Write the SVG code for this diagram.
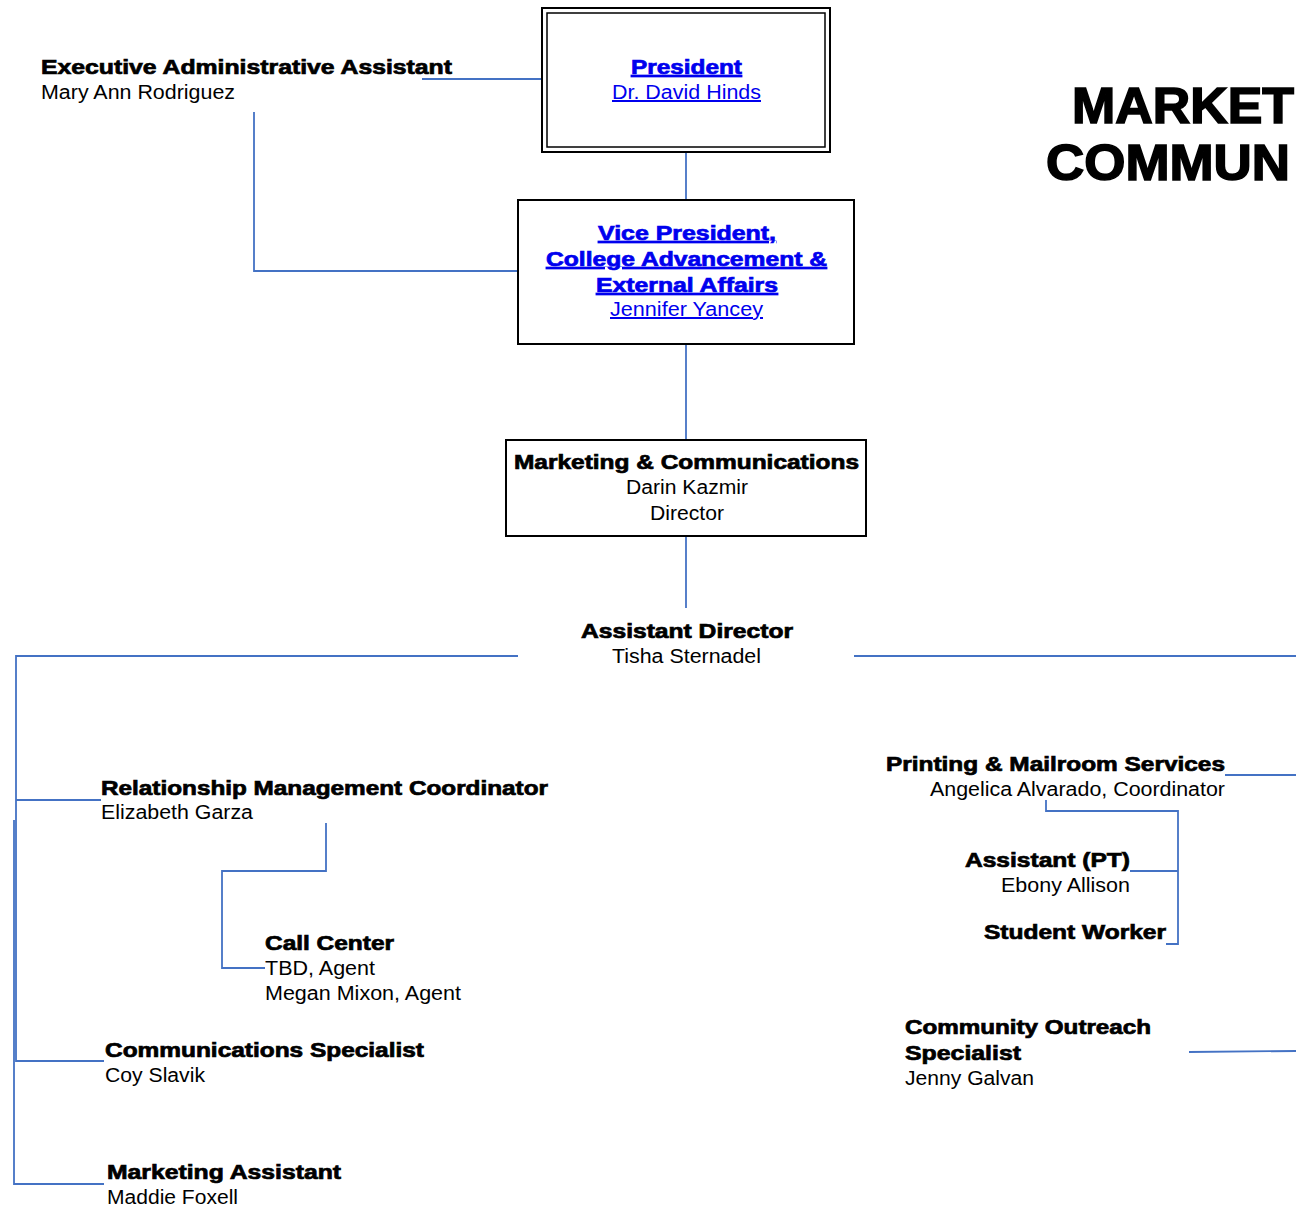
<svg xmlns="http://www.w3.org/2000/svg" width="1296" height="1209" viewBox="0 0 1296 1209">
<style>
text{font-family:"Liberation Sans",Arial,sans-serif;font-size:20px;fill:#000}
.b{font-weight:bold;stroke:#000;stroke-width:0.7}
.lk{fill:#0000ee;text-decoration:underline}
.b.lk{stroke:#0000ee}
.box{fill:#fff;stroke:#000;stroke-width:2}
.c{fill:none;stroke:#4472c4;stroke-width:1.8}
.t{font-weight:bold;font-size:50px;stroke:#000;stroke-width:1.6}
</style>
<rect width="1296" height="1209" fill="#fff"/>
<g id="connectors">
<path class="c" d="M422 79H542"/>
<path class="c" d="M254 112V271H518"/>
<path class="c" d="M686 152V200"/>
<path class="c" d="M686 344V440"/>
<path class="c" d="M686 536V608"/>
<path class="c" d="M518 656H16V1062"/>
<path class="c" d="M14 820V1184H104"/>
<path class="c" d="M16 800H101"/>
<path class="c" d="M16 1061H104"/>
<path class="c" d="M854 656H1296"/>
<path class="c" d="M326 823V871H222V968H265"/>
<path class="c" d="M1225 775H1296"/>
<path class="c" d="M1046 800V811H1178V944H1166"/>
<path class="c" d="M1130 871H1178"/>
<path class="c" d="M1189 1052L1296 1051"/>
</g>
<g id="title">
<text class="t" x="1072" y="123" textLength="222" lengthAdjust="spacingAndGlyphs">MARKET</text>
<text class="t" x="1046" y="180" textLength="244" lengthAdjust="spacingAndGlyphs">COMMUN</text>
</g>
<g id="exec-assistant">
<text class="b" x="41" y="74" textLength="411" lengthAdjust="spacingAndGlyphs">Executive Administrative Assistant</text>
<text x="41" y="99" textLength="194" lengthAdjust="spacingAndGlyphs">Mary Ann Rodriguez</text>
</g>
<g id="president">
<rect class="box" x="542" y="8" width="288" height="144"/>
<rect x="547" y="13" width="278" height="134" fill="none" stroke="#000" stroke-width="1.5"/>
<text class="b lk" x="631" y="74" textLength="111" lengthAdjust="spacingAndGlyphs">President</text>
<text class="lk" x="612" y="99" textLength="149" lengthAdjust="spacingAndGlyphs">Dr. David Hinds</text>
</g>
<g id="vice-president">
<rect class="box" x="518" y="200" width="336" height="144"/>
<text class="b lk" x="598" y="240" textLength="178" lengthAdjust="spacingAndGlyphs">Vice President,</text>
<text class="b lk" x="546" y="266" textLength="281" lengthAdjust="spacingAndGlyphs">College Advancement &amp;</text>
<text class="b lk" x="596" y="292" textLength="182" lengthAdjust="spacingAndGlyphs">External Affairs</text>
<text class="lk" x="610" y="316" textLength="153" lengthAdjust="spacingAndGlyphs">Jennifer Yancey</text>
</g>
<g id="director">
<rect class="box" x="506" y="440" width="360" height="96"/>
<text class="b" x="514" y="469" textLength="345" lengthAdjust="spacingAndGlyphs">Marketing &amp; Communications</text>
<text x="626" y="494" textLength="122" lengthAdjust="spacingAndGlyphs">Darin Kazmir</text>
<text x="650" y="520" textLength="74" lengthAdjust="spacingAndGlyphs">Director</text>
</g>
<g id="assistant-director">
<text class="b" x="581" y="638" textLength="212" lengthAdjust="spacingAndGlyphs">Assistant Director</text>
<text x="612" y="663" textLength="149" lengthAdjust="spacingAndGlyphs">Tisha Sternadel</text>
</g>
<g id="relationship">
<text class="b" x="101" y="795" textLength="447" lengthAdjust="spacingAndGlyphs">Relationship Management Coordinator</text>
<text x="101" y="819" textLength="152" lengthAdjust="spacingAndGlyphs">Elizabeth Garza</text>
</g>
<g id="call-center">
<text class="b" x="265" y="950" textLength="129" lengthAdjust="spacingAndGlyphs">Call Center</text>
<text x="265" y="975" textLength="110" lengthAdjust="spacingAndGlyphs">TBD, Agent</text>
<text x="265" y="1000" textLength="196" lengthAdjust="spacingAndGlyphs">Megan Mixon, Agent</text>
</g>
<g id="comm-specialist">
<text class="b" x="105" y="1057" textLength="319" lengthAdjust="spacingAndGlyphs">Communications Specialist</text>
<text x="105" y="1082" textLength="100" lengthAdjust="spacingAndGlyphs">Coy Slavik</text>
</g>
<g id="marketing-assistant">
<text class="b" x="107" y="1179" textLength="234" lengthAdjust="spacingAndGlyphs">Marketing Assistant</text>
<text x="107" y="1204" textLength="131" lengthAdjust="spacingAndGlyphs">Maddie Foxell</text>
</g>
<g id="printing">
<text class="b" x="886" y="771" textLength="339" lengthAdjust="spacingAndGlyphs">Printing &amp; Mailroom Services</text>
<text x="930" y="796" textLength="295" lengthAdjust="spacingAndGlyphs">Angelica Alvarado, Coordinator</text>
</g>
<g id="assistant-pt">
<text class="b" x="965" y="867" textLength="165" lengthAdjust="spacingAndGlyphs">Assistant (PT)</text>
<text x="1001" y="892" textLength="129" lengthAdjust="spacingAndGlyphs">Ebony Allison</text>
</g>
<g id="student-worker">
<text class="b" x="984" y="939" textLength="182" lengthAdjust="spacingAndGlyphs">Student Worker</text>
</g>
<g id="community-outreach">
<text class="b" x="905" y="1034" textLength="246" lengthAdjust="spacingAndGlyphs">Community Outreach</text>
<text class="b" x="905" y="1060" textLength="116" lengthAdjust="spacingAndGlyphs">Specialist</text>
<text x="905" y="1085" textLength="129" lengthAdjust="spacingAndGlyphs">Jenny Galvan</text>
</g>
</svg>
